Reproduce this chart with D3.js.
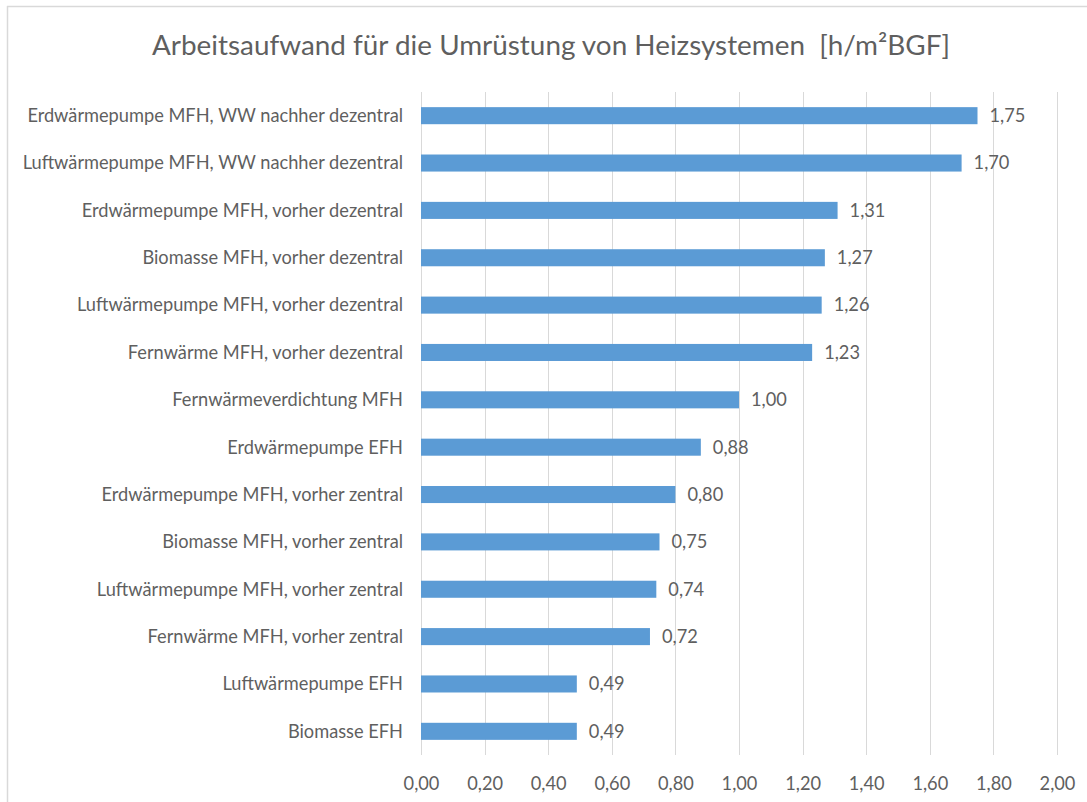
<!DOCTYPE html>
<html>
<head>
<meta charset="utf-8">
<script src="https://cdn.jsdelivr.net/npm/d3@7"></script>
<style>
  html, body { margin: 0; padding: 0; background: #fff; }
  svg { display: block; }
  text { font-family: Lato, "Open Sans", sans-serif; fill: #5f5f5f; }
</style>
</head>
<body>
<svg id="chart" width="1087" height="802"></svg>
<script>
const title = "Arbeitsaufwand für die Umrüstung von Heizsystemen  [h/m²BGF]";

const categories = [
    "Erdwärmepumpe MFH, WW nachher dezentral",
    "Luftwärmepumpe MFH, WW nachher dezentral",
    "Erdwärmepumpe MFH, vorher dezentral",
    "Biomasse MFH, vorher dezentral",
    "Luftwärmepumpe MFH, vorher dezentral",
    "Fernwärme MFH, vorher dezentral",
    "Fernwärmeverdichtung MFH",
    "Erdwärmepumpe EFH",
    "Erdwärmepumpe MFH, vorher zentral",
    "Biomasse MFH, vorher zentral",
    "Luftwärmepumpe MFH, vorher zentral",
    "Fernwärme MFH, vorher zentral",
    "Luftwärmepumpe EFH",
    "Biomasse EFH"
];

const values = [1.75, 1.70, 1.31, 1.27, 1.26, 1.23, 1.00, 0.88, 0.80, 0.75, 0.74, 0.72, 0.49, 0.49];

const xTicks = [0, 0.2, 0.4, 0.6, 0.8, 1.0, 1.2, 1.4, 1.6, 1.8, 2.0];

const svg = d3.select("svg#chart");

// german number format (comma as decimal separator)
const de = d3.formatLocale({ decimal: ",", thousands: ".", grouping: [3], currency: ["", " €"] });
const fmt = de.format(".2f");

const plot = { left: 421, right: 1057, top: 92, bottom: 755 };

const x = d3.scaleLinear().domain([0, 2]).range([plot.left, plot.right]);
const y = d3.scaleBand().domain(categories).range([plot.top, plot.bottom])
    .paddingInner(0.64).paddingOuter(0.32);

// chart border (only top and left visible in the crop)
svg.append("line").attr("x1", 7).attr("x2", 1087).attr("y1", 6.5).attr("y2", 6.5)
    .attr("stroke", "#d9d9d9").attr("stroke-width", 1.5);
svg.append("line").attr("x1", 7.5).attr("x2", 7.5).attr("y1", 6).attr("y2", 802)
    .attr("stroke", "#d9d9d9").attr("stroke-width", 1.5);

// fit a font size so that a text gets a given width
const fitSize = (str, targetWidth, baseSize) => {
    const t = svg.append("text").attr("font-size", baseSize)
        .style("white-space", "pre").text(str);
    const w = t.node().getComputedTextLength();
    t.remove();
    return baseSize * targetWidth / w;
};

const labelSize = fitSize(categories[0], 376, 20);
const titleSize = fitSize(title, 798, 28);

// gridlines
svg.append("g").attr("class", "grid")
    .selectAll("line")
    .data(xTicks)
    .enter().append("line")
    .attr("x1", d => Math.round(x(d)) + 0.5)
    .attr("x2", d => Math.round(x(d)) + 0.5)
    .attr("y1", plot.top)
    .attr("y2", plot.bottom)
    .attr("stroke", "#d9d9d9")
    .attr("stroke-width", 1);

// x axis labels
const xAxis = svg.append("g")
    .attr("transform", `translate(0, ${plot.bottom})`)
    .call(d3.axisBottom(x).tickValues(xTicks).tickFormat(fmt).tickSize(0).tickPadding(22));
xAxis.select(".domain").remove();
xAxis.selectAll("text")
    .attr("font-size", labelSize)
    .attr("font-family", "Lato, 'Open Sans', sans-serif")
    .attr("fill", "#5f5f5f");

// bars
svg.append("g").attr("class", "bars")
    .selectAll("rect")
    .data(values)
    .enter().append("rect")
    .attr("x", x(0))
    .attr("y", (v, i) => y(categories[i]))
    .attr("width", v => x(v) - x(0))
    .attr("height", y.bandwidth())
    .attr("fill", "#5b9bd5");

// category labels
svg.append("g").attr("class", "cat-labels")
    .selectAll("text")
    .data(categories)
    .enter().append("text")
    .attr("x", plot.left - 18)
    .attr("y", c => y(c) + y.bandwidth() / 2)
    .attr("dy", "0.35em")
    .attr("text-anchor", "end")
    .attr("font-size", labelSize)
    .text(c => c);

// value labels
svg.append("g").attr("class", "value-labels")
    .selectAll("text")
    .data(values)
    .enter().append("text")
    .attr("x", v => x(v) + 12)
    .attr("y", (v, i) => y(categories[i]) + y.bandwidth() / 2)
    .attr("dy", "0.35em")
    .attr("font-size", labelSize)
    .text(v => fmt(v));

// title (double space before the unit, as in the original)
svg.append("text")
    .attr("x", 551)
    .attr("y", 45)
    .attr("dy", "0.35em")
    .attr("text-anchor", "middle")
    .attr("font-size", titleSize)
    .style("white-space", "pre")
    .text(title);
</script>
</body>
</html>
